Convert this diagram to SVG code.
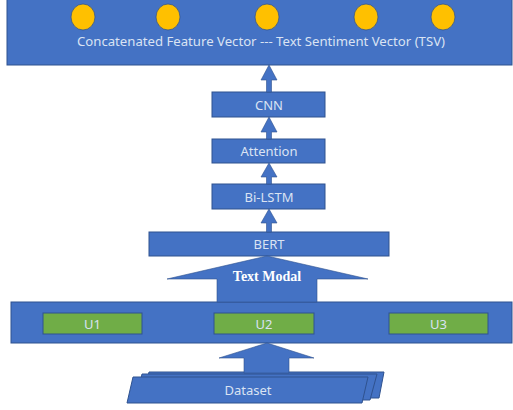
<svg xmlns="http://www.w3.org/2000/svg" width="513" height="410" viewBox="0 0 513 410">
<style>
.box{fill:#4472c4;stroke:#2f528f;stroke-width:1}
.unit{fill:#70ad47;stroke:#2f528f;stroke-width:1}
.dot{fill:#ffc000;stroke:#2f528f;stroke-width:0.75}
.arr{fill:#4472c4;stroke:#2f528f;stroke-width:0.6}
.lbl{font-family:"Noto Sans","Open Sans",sans-serif;font-size:13px;fill:#dae3f3;text-anchor:middle}
.tm{font-family:"Liberation Serif","Times New Roman",serif;font-size:14px;font-weight:bold;fill:#ffffff;text-anchor:middle}
</style>
<rect width="513" height="410" fill="#ffffff"/>
<g id="tsv">
<rect class="box" x="7" y="-1" width="505" height="66"/>
<ellipse class="dot" cx="83" cy="17" rx="12" ry="13"/>
<ellipse class="dot" cx="168" cy="17" rx="12" ry="13"/>
<ellipse class="dot" cx="267" cy="17" rx="12" ry="13"/>
<ellipse class="dot" cx="366" cy="17" rx="12" ry="13"/>
<ellipse class="dot" cx="443" cy="17" rx="12" ry="13"/>
<text class="lbl" x="261" y="46" font-size="14" textLength="368" lengthAdjust="spacingAndGlyphs">Concatenated Feature Vector --- Text Sentiment Vector (TSV)</text>
</g>
<g id="cnn">
<rect class="box" x="212" y="92" width="113" height="25"/>
<text class="lbl" x="269" y="110">CNN</text>
</g>
<g id="attention">
<rect class="box" x="212" y="139" width="113" height="24"/>
<text class="lbl" x="269" y="156">Attention</text>
</g>
<g id="bilstm">
<rect class="box" x="212" y="184" width="113" height="25"/>
<text class="lbl" x="269" y="202">Bi-LSTM</text>
</g>
<g id="bert">
<rect class="box" x="149" y="232" width="240" height="24"/>
<text class="lbl" x="269" y="249">BERT</text>
</g>
<g id="units">
<rect class="box" x="11" y="302" width="501" height="41"/>
<g id="u1"><rect class="unit" x="43" y="313" width="99" height="21"/><text class="lbl" x="92.5" y="329">U1</text></g>
<g id="u2"><rect class="unit" x="214" y="313" width="100" height="21"/><text class="lbl" x="264" y="329">U2</text></g>
<g id="u3"><rect class="unit" x="389" y="313" width="99" height="21"/><text class="lbl" x="438.5" y="329">U3</text></g>
</g>
<g id="dataset">
<polygon class="box" points="149,372 384,372 379,398 143,398"/>
<polygon class="box" points="142,374 377,374 370,400 136,400"/>
<polygon class="box" points="133,377 368,377 362,403 127,403"/>
<text class="lbl" x="248" y="395">Dataset</text>
</g>
<g id="connectors">
<polygon class="arr" points="269,65 277,80 271.5,80 271.5,92 266.5,92 266.5,80 261,80"/>
<polygon class="arr" points="269,117 277,132 271.5,132 271.5,139 266.5,139 266.5,132 261,132"/>
<polygon class="arr" points="269,163 277,177 271.5,177 271.5,184 266.5,184 266.5,177 261,177"/>
<polygon class="arr" points="269,209 277,223 271.5,223 271.5,232 266.5,232 266.5,223 261,223"/>
<polygon class="arr" points="267,256 368,279 317,279 317,302 217,302 217,279 167,279"/>
<text class="tm" x="267" y="281">Text Modal</text>
<polygon class="arr" points="267,343 314,358 289,358 289,373 244,373 244,358 219,358"/>
</g>
</svg>
